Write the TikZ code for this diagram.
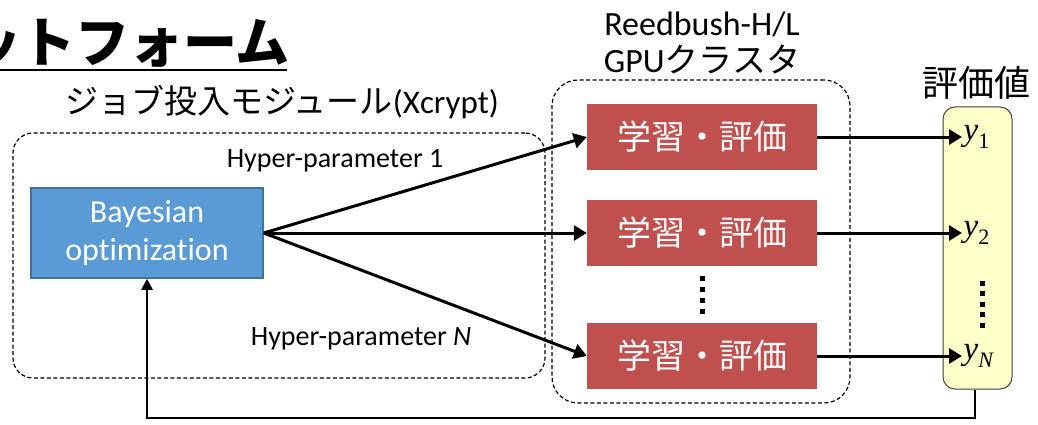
\documentclass[tikz,border=0pt]{standalone}
\usepackage{fontspec}
\setmainfont{Carlito}[Ligatures=NoCommon]
\newfontfamily\cjk{Noto Sans CJK JP}
\newfontfamily\yfont{Liberation Serif}
\newcommand{\yvar}[1]{{\yfont\itshape y}\raisebox{-0.22em}{\fontsize{22}{24}\selectfont\yfont #1}}
\usetikzlibrary{arrows.meta}
\definecolor{bblue}{HTML}{5B9BD5}
\definecolor{bblueline}{HTML}{41719C}
\definecolor{bred}{HTML}{C0504D}
\definecolor{byellow}{HTML}{FFFFC9}
\tikzset{
  dashbox/.style={draw=black, line width=1.2pt, dash pattern=on 4pt off 2.5pt, rounded corners=20pt, inner sep=0},
  bayes/.style={draw=bblueline, line width=1.5pt, fill=bblue, text=white, inner sep=0, minimum width=232pt, minimum height=90pt, align=center, font=\fontsize{32}{38}\selectfont},
  evalbox/.style={fill=bred, text=white, inner sep=0, minimum width=230pt, minimum height=66pt, font=\fontsize{34}{40}\selectfont\cjk},
  ybox/.style={draw=black!75, line width=1pt, fill=byellow, rounded corners=12pt, inner sep=0, minimum width=69pt, minimum height=282pt},
  ylab/.style={anchor=west, inner sep=1.5pt, font=\fontsize{33}{36}\selectfont},
  hplab/.style={inner sep=0, font=\fontsize{28}{32}\selectfont},
  arr/.style={line width=3pt, -{Triangle[length=13pt,width=15pt]}},
  fbarr/.style={line width=2.5pt, -{Triangle[length=11pt,width=11pt]}},
}
\begin{document}
\begin{tikzpicture}[x=1pt,y=-1pt]
\useasboundingbox (0,0) rectangle (1038,425);
% title
\node[anchor=base east, inner sep=0, font=\fontsize{54}{60}\selectfont\cjk\bfseries] (title) at (290,63) {ットフォーム};
\draw[line width=2.5pt] (0,70) -- (287,70);
% job module label
\node[inner sep=0, font=\fontsize{33}{38}\selectfont] (joblab) at (282,102) {{\cjk ジョブ投入モジュール}(Xcrypt)};
% dashed containers
\node[dashbox, minimum width=532pt, minimum height=245pt] (leftbox) at (279,255.5) {};
\node[dashbox, rounded corners=26pt, minimum width=298pt, minimum height=323pt] (rightbox) at (701,241.5) {};
% cluster label
\node[inner sep=0, align=center, font=\fontsize{34}{37}\selectfont] (clab) at (702,43) {Reedbush-H/L\\GPU{\cjk クラスタ}};
% eval label
\node[inner sep=0, font=\fontsize{36}{40}\selectfont\cjk] (elab) at (976,83) {評価値};
% bayesian
\node[bayes] (bo) at (147,233) {Bayesian\\optimization};
% eval boxes
\node[evalbox] (r1) at (702,137) {学習・評価};
\node[evalbox] (r2) at (702,233) {学習・評価};
\node[evalbox] (r3) at (702,356) {学習・評価};
% yellow
\node[ybox] (yy) at (977.5,248) {};
\node[ylab] (y1) at (962,137) {\yvar{1}};
\node[ylab] (y2) at (962,233) {\yvar{2}};
\node[ylab] (yN) at (962,356) {\yvar{\itshape N}};
% hyper labels
\node[hplab] (h1) at (335,161) {Hyper-parameter 1};
\node[hplab] (hN) at (361,339) {Hyper-parameter \textit{N}};
% dots
\foreach \yy in {278,289,300,311} \fill (699.5,\yy-2.5) rectangle ++(5,5);
\foreach \yy in {283,293.5,304,314.5,325} \fill (979.5,\yy-2.5) rectangle ++(5,5);
% arrows
\draw[arr] (bo.east) -- (r1.west);
\draw[arr] (bo.east) -- (r2.west);
\draw[arr] (bo.east) -- (r3.west);
\draw[arr] (r1.east) -- (y1.west);
\draw[arr] (r2.east) -- (y2.west);
\draw[arr] (r3.east) -- (yN.west);
\coordinate (fbc) at (975,418);
\draw[fbarr] (yy.south -| fbc) -- (fbc) -| (bo.south);
\end{tikzpicture}
\end{document}
